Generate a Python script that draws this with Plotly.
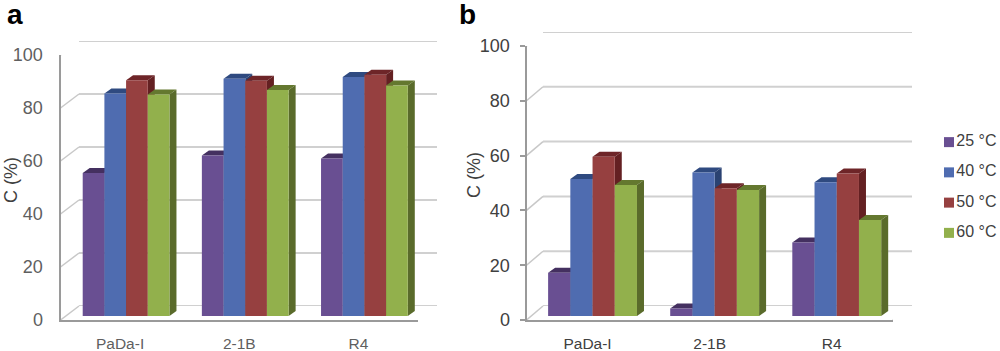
import plotly.graph_objects as go

W, H = 1000, 351
categories = ["PaDa-I", "2-1B", "R4"]
series = ["25 °C", "40 °C", "50 °C", "60 °C"]
front = ["#694F92", "#4F6CB0", "#964040", "#92B04C"]
dark_top = ["#443060", "#2F4A80", "#6E2528", "#64782F"]
dark_side = ["#3E2C58", "#2A4272", "#642022", "#5A6B2B"]
ticks = [0, 20, 40, 60, 80, 100]

a_25 = [54.0, 60.6, 59.4]
a_40 = [84.0, 89.5, 90.2]
a_50 = [89.0, 88.8, 91.0]
a_60 = [83.6, 85.3, 87.0]
b_25 = [15.8, 2.7, 26.8]
b_40 = [50.0, 52.4, 48.8]
b_50 = [58.1, 46.6, 52.0]
b_60 = [47.8, 46.0, 35.0]
panel_a = [a_25, a_40, a_50, a_60]
panel_b = [b_25, b_40, b_50, b_60]

FONT = "Liberation Sans"
BAR_FRAC = 0.182
fig = go.Figure()
layout = {}


def dom_x(p0, p1):
    return [p0 / W, p1 / W]


def dom_y(bottom, top):
    return [1 - bottom / H, 1 - top / H]


def panel(base, values, front_x, front_y, wall_x, wall_y, bars_shift, bars_base, bars_top,
          depth, tick_len, standoff, label_color, boundary_ticks):
    n = [str(base + i) for i in range(4)]
    hide = dict(visible=False, fixedrange=True)
    # back wall with gridlines
    layout["xaxis" + n[0]] = dict(domain=dom_x(*wall_x), range=[0, 1], anchor="y" + n[0], **hide)
    layout["yaxis" + n[0]] = dict(domain=dom_y(*wall_y), range=[0, 100], anchor="x" + n[0], **hide)
    gx, gy = [], []
    for t in ticks:
        gx += [0, 1, None]
        gy += [t, t, None]
    fig.add_trace(go.Scatter(x=gx, y=gy, mode="lines", line=dict(color="#D0D0D0", width=2), cliponaxis=False,
                             showlegend=False, hoverinfo="skip", xaxis="x" + n[0], yaxis="y" + n[0]))
    # front axes
    layout["xaxis" + n[1]] = dict(domain=dom_x(*front_x), range=[-0.5, 2.5], anchor="y" + n[1],
                                  tickvals=[0, 1, 2], ticktext=categories, ticks="", showline=True,
                                  linecolor="#9A9A9A", linewidth=2, showgrid=False, zeroline=False,
                                  tickfont=dict(family=FONT, size=15.5, color=label_color),
                                  ticklabelstandoff=8, fixedrange=True)
    layout["yaxis" + n[1]] = dict(domain=dom_y(*front_y), range=[0, 100], anchor="x" + n[1], tickvals=ticks,
                                  ticks="outside" if tick_len else "", ticklen=tick_len, tickcolor="#9A9A9A",
                                  tickwidth=2, showline=True, linecolor="#9A9A9A", linewidth=2, showgrid=False,
                                  zeroline=False, tickfont=dict(family=FONT, size=18, color=label_color),
                                  ticklabelstandoff=standoff, fixedrange=True)
    group_px = (front_x[1] - front_x[0]) / 3
    scale = (front_y[0] - front_y[1]) / 100
    dgx, dgy = (wall_x[0] - front_x[0]) / group_px, (front_y[0] - wall_y[0]) / scale
    dx, dy = [], []
    for t in ticks:
        dx += [-0.5, -0.5 + dgx, None]
        dy += [t, t + dgy, None]
    if boundary_ticks:
        dx += [2.5, 2.5 + dgx, None]
        dy += [0, dgy, None]
    fig.add_trace(go.Scatter(x=dx, y=dy, mode="lines", line=dict(color="#C8C8C8", width=1.5), cliponaxis=False,
                             showlegend=False, hoverinfo="skip", xaxis="x" + n[1], yaxis="y" + n[1]))
    if boundary_ticks:
        tx, ty = [], []
        for b in [-0.5, 0.5, 1.5, 2.5]:
            tx += [b, b, None]
            ty += [0, -tick_len / scale, None]
        fig.add_trace(go.Scatter(x=tx, y=ty, mode="lines", line=dict(color="#9A9A9A", width=1.5), cliponaxis=False,
                                 showlegend=False, hoverinfo="skip", xaxis="x" + n[1], yaxis="y" + n[1]))
    # 3D faces and bar fronts share one frame
    bx = [front_x[0] + bars_shift, front_x[1] + bars_shift]
    for k in (2, 3):
        layout["xaxis" + n[k]] = dict(domain=dom_x(*bx), range=[-0.5, 2.5], anchor="y" + n[k], **hide)
        layout["yaxis" + n[k]] = dict(domain=dom_y(bars_base, bars_top), range=[0, 100], anchor="x" + n[k], **hide)
    ux, uy = depth[0] / group_px, depth[1] / ((bars_base - bars_top) / 100)
    for i, vals in enumerate(values):
        for j, v in enumerate(vals):
            x0 = j + (i - 2) * BAR_FRAC
            x1 = x0 + BAR_FRAC
            fig.add_trace(go.Scatter(x=[x0, x1, x1 + ux, x0 + ux, x0], y=[v, v, v + uy, v + uy, v], mode="lines",
                                     fill="toself", fillcolor=dark_top[i], line=dict(width=0), cliponaxis=False,
                                     showlegend=False, hoverinfo="skip", xaxis="x" + n[2], yaxis="y" + n[2]))
            fig.add_trace(go.Scatter(x=[x1, x1 + ux, x1 + ux, x1, x1], y=[0, uy, v + uy, v, 0], mode="lines",
                                     fill="toself", fillcolor=dark_side[i], line=dict(width=0), cliponaxis=False,
                                     showlegend=False, hoverinfo="skip", xaxis="x" + n[2], yaxis="y" + n[2]))
    for i, vals in enumerate(values):
        fig.add_trace(go.Bar(x=[0, 1, 2], y=vals, name=series[i], marker=dict(color=front[i], line=dict(width=0)),
                             showlegend=False, xaxis="x" + n[3], yaxis="y" + n[3]))


panel(1, panel_a, (60.5, 418), (320, 55), (79, 437), (306, 41), 6, 316, 51, (7, 5), 0, 12, "#5F5F5F", False)
panel(5, panel_b, (526.5, 892.8), (320, 46), (543, 912), (306, 32), 5, 316, 42, (7, 5), 5, 6, "#404040", True)

# series key, drawn in its own small frame
layout["xaxis9"] = dict(domain=dom_x(944, 954), range=[-1, 1], anchor="y9", visible=False, fixedrange=True)
layout["yaxis9"] = dict(domain=dom_y(248, 127), range=[3.5, -0.5], anchor="x9", visible=False, fixedrange=True)
for i, name in enumerate(series):
    fig.add_trace(go.Scatter(x=[0], y=[i], name=name, mode="markers+text", text=[name], textposition="middle right",
                             marker=dict(symbol="square", size=10, color=front[i]), cliponaxis=False,
                             textfont=dict(family=FONT, size=16, color="#404040"), showlegend=False,
                             xaxis="x9", yaxis="y9"))

notes = [
    dict(text="<b>a</b>", x=15, y=14, size=28, color="#000000", angle=0),
    dict(text="<b>b</b>", x=467, y=14, size=28, color="#000000", angle=0),
    dict(text="C (%)", x=11, y=180, size=18, color="#404040", angle=-90),
    dict(text="C (%)", x=474, y=175, size=18, color="#404040", angle=-90),
]
annotations = [dict(text=a["text"], x=a["x"] / W, y=1 - a["y"] / H, xref="paper", yref="paper", showarrow=False,
                    textangle=a["angle"], xanchor="center", yanchor="middle",
                    font=dict(family=FONT, size=a["size"], color=a["color"])) for a in notes]

fig.update_layout(
    width=W, height=H, margin=dict(l=0, r=0, t=0, b=0, autoexpand=False), paper_bgcolor="white",
    plot_bgcolor="rgba(0,0,0,0)", showlegend=False,
    barmode="group", bargap=0.272, bargroupgap=0, annotations=annotations, hovermode=False,
    **layout,
)
fig.write_html("out.html", config=dict(displayModeBar=False),
               post_script="document.body.style.margin='0';document.body.style.overflow='hidden';")
